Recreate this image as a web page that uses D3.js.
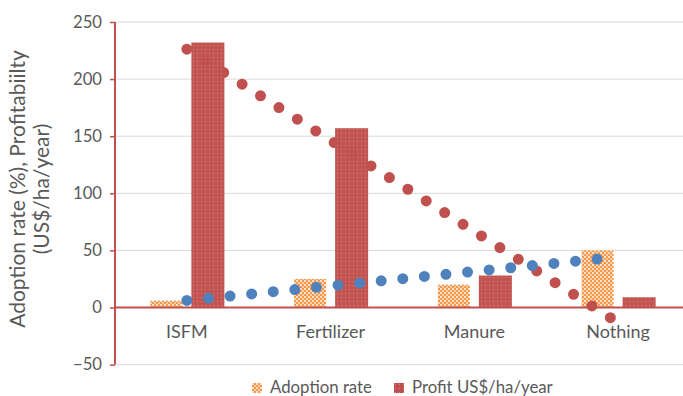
<!DOCTYPE html>
<html>
<head>
<meta charset="utf-8">
<script src="https://cdn.jsdelivr.net/npm/d3@7"></script>
<style>
  html, body { margin: 0; padding: 0; background: #fff; }
  svg { display: block; font-family: Lato, "Open Sans", sans-serif; }
</style>
</head>
<body>
<svg id="chart" width="683" height="396"></svg>
<script>
// Farming practices compared
const categories = ["ISFM", "Fertilizer", "Manure", "Nothing"];
const adoptionRate = [6, 25, 20, 50];
const profit = [232, 157, 28, 9];
const yTicks = [-50, 0, 50, 100, 150, 200, 250];
const seriesNames = ["Adoption rate", "Profit US$/ha/year"];

const W = 683, H = 396;
const plot = { left: 115, right: 690, top: 22, bottom: 364.6 };

const svg = d3.select("#chart");
const defs = svg.append("defs");

// Orange checker fill for adoption bars
const pa = defs.append("pattern").attr("id", "patAdopt")
  .attr("width", 4).attr("height", 4).attr("patternUnits", "userSpaceOnUse");
pa.append("rect").attr("width", 4).attr("height", 4).attr("fill", "#F79646");
pa.append("rect").attr("x", 0).attr("y", 0).attr("width", 2).attr("height", 2).attr("fill", "#FDE3CC");
pa.append("rect").attr("x", 2).attr("y", 2).attr("width", 2).attr("height", 2).attr("fill", "#FBD0AA");

// Red dotted fill for profit bars
const pp = defs.append("pattern").attr("id", "patProfit")
  .attr("width", 4).attr("height", 4).attr("patternUnits", "userSpaceOnUse");
pp.append("rect").attr("width", 4).attr("height", 4).attr("fill", "#C0504D");
pp.append("rect").attr("x", 1).attr("y", 1).attr("width", 1).attr("height", 1).attr("fill", "#D9807D");

const x = d3.scaleBand().domain(categories).range([plot.left, plot.right]).paddingInner(0).paddingOuter(0);
const y = d3.scaleLinear().domain([-50, 250]).range([plot.bottom, plot.top]);

const barW = 32, barGap = 9;
const xCenter = c => x(c) + x.bandwidth() / 2;

// Gridlines
svg.append("g").selectAll("line").data(yTicks.filter(t => t !== 0)).join("line")
  .attr("x1", plot.left).attr("x2", W)
  .attr("y1", d => y(d)).attr("y2", d => y(d))
  .attr("stroke", "#D9D9D9").attr("stroke-width", 1);

// Linear trend of a series over category positions 1..n
function trend(vals) {
  const n = vals.length;
  const xs = vals.map((_, i) => i + 1);
  const mx = d3.mean(xs), my = d3.mean(vals);
  const sxy = d3.sum(xs, (xi, i) => (xi - mx) * (vals[i] - my));
  const sxx = d3.sum(xs, xi => (xi - mx) ** 2);
  const b = sxy / sxx, a = my - b * mx;
  return [{ i: 0, v: a + b * 1 }, { i: n - 1, v: a + b * n }];
}
const trendLine = d3.line()
  .x(d => xCenter(categories[d.i]))
  .y(d => y(d.v));

// Adoption bars
svg.append("g").selectAll("rect").data(categories).join("rect")
  .attr("x", c => xCenter(c) - barGap / 2 - barW)
  .attr("width", barW)
  .attr("y", (c, i) => y(Math.max(0, adoptionRate[i])))
  .attr("height", (c, i) => Math.abs(y(adoptionRate[i]) - y(0)))
  .attr("fill", "url(#patAdopt)");

// Profit trend (round dots)
svg.append("path").datum(trend(profit))
  .attr("d", trendLine)
  .attr("fill", "none").attr("stroke", "#C0504D")
  .attr("stroke-width", 11).attr("stroke-linecap", "round")
  .attr("stroke-dasharray", "0 21.8");

// Profit bars
svg.append("g").selectAll("rect").data(categories).join("rect")
  .attr("x", c => xCenter(c) + barGap / 2)
  .attr("width", barW + 1)
  .attr("y", (c, i) => y(Math.max(0, profit[i])))
  .attr("height", (c, i) => Math.abs(y(profit[i]) - y(0)))
  .attr("fill", "url(#patProfit)").attr("opacity", 0.97);

// Adoption trend (round dots)
svg.append("path").datum(trend(adoptionRate))
  .attr("d", trendLine)
  .attr("fill", "none").attr("stroke", "#4F81BD")
  .attr("stroke-width", 11).attr("stroke-linecap", "round")
  .attr("stroke-dasharray", "0 21.7");

// Axes
const axisColor = "#C0504D";
const yAxis = svg.append("g").attr("transform", `translate(${plot.left},0)`)
  .call(d3.axisLeft(y).tickValues(yTicks).tickSize(5).tickPadding(8).tickFormat(d3.format("d")));
yAxis.attr("font-family", null);
yAxis.select(".domain").attr("stroke", axisColor).attr("stroke-width", 2)
  .attr("d", `M0,${plot.top}V${plot.bottom}`);
yAxis.selectAll(".tick line").attr("stroke", axisColor).attr("stroke-width", 1.5);
yAxis.selectAll(".tick text").attr("fill", "#595959").attr("font-size", 16.7);

svg.append("line")
  .attr("x1", plot.left).attr("x2", W)
  .attr("y1", y(0)).attr("y2", y(0))
  .attr("stroke", axisColor).attr("stroke-width", 2);

svg.append("g").selectAll("text").data(categories).join("text")
  .attr("x", c => xCenter(c)).attr("y", y(0) + 30.5)
  .attr("text-anchor", "middle").attr("fill", "#595959").attr("font-size", 18)
  .text(d => d);

// Axis title
const title = svg.append("text")
  .attr("transform", "translate(29,189) rotate(-90)")
  .attr("text-anchor", "middle").attr("fill", "#595959").attr("font-size", 21);
title.append("tspan").attr("x", 0).attr("dy", -4).text("Adoption rate (%), Profitabiilty");
title.append("tspan").attr("x", 0).attr("dy", 24).text("(US$/ha/year)");

// Legend
const legend = svg.append("g");
const legendItems = [
  { name: seriesNames[0], fill: "url(#patAdopt)", x: 252 },
  { name: seriesNames[1], fill: "url(#patProfit)", x: 394 }
];
const li = legend.selectAll("g").data(legendItems).join("g")
  .attr("transform", d => `translate(${d.x},383)`);
li.append("rect").attr("width", 10).attr("height", 10).attr("fill", d => d.fill);
li.append("text").attr("x", 18).attr("y", 10).attr("fill", "#595959").attr("font-size", 16.8)
  .text(d => d.name);
</script>
</body>
</html>
